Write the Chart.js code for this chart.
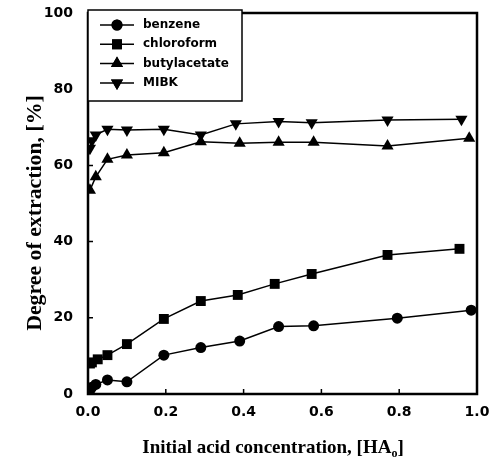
<!DOCTYPE html>
<html>
<head>
<meta charset="utf-8">
<script src="https://cdn.jsdelivr.net/npm/chart.js@4/dist/chart.umd.min.js"></script>
<style>
  html, body { margin: 0; padding: 0; background: #ffffff; }
  #wrap { position: relative; width: 497px; height: 467px; }
</style>
</head>
<body>
<div id="wrap"><canvas id="c" width="497" height="467"></canvas></div>
<script>
// ---- data ----
const seriesNames = ["benzene", "chloroform", "butylacetate", "MIBK"];

const benzeneX = [0.005, 0.01, 0.02, 0.05, 0.10, 0.195, 0.29, 0.39, 0.49, 0.58, 0.795, 0.985];
const benzeneY = [1.0, 1.8, 2.5, 3.7, 3.2, 10.2, 12.2, 13.9, 17.7, 17.9, 19.9, 22.0];

const chloroformX = [0.005, 0.01, 0.025, 0.05, 0.10, 0.195, 0.29, 0.385, 0.48, 0.575, 0.77, 0.955];
const chloroformY = [8.0, 8.3, 9.1, 10.2, 13.1, 19.7, 24.4, 26.0, 28.9, 31.5, 36.5, 38.1];

const butylX = [0.005, 0.02, 0.05, 0.10, 0.195, 0.29, 0.39, 0.49, 0.58, 0.77, 0.98];
const butylY = [53.5, 57.0, 61.6, 62.7, 63.3, 66.2, 65.8, 66.1, 66.1, 65.1, 67.1];

const mibkX = [0.005, 0.01, 0.02, 0.05, 0.10, 0.195, 0.29, 0.38, 0.49, 0.575, 0.77, 0.96];
const mibkY = [64.5, 66.5, 68.0, 69.5, 69.3, 69.5, 68.0, 70.9, 71.5, 71.2, 71.9, 72.1];

const xTicks = [0.0, 0.2, 0.4, 0.6, 0.8, 1.0];
const yTicks = [0, 20, 40, 60, 80, 100];

const xTitle = "Initial acid concentration, [HA";
const xTitleSub = "o";
const xTitleEnd = "]";
const yTitle = "Degree of extraction, [%]";

// ---- build ----
function pts(xs, ys) { return xs.map((x, i) => ({ x: x, y: ys[i] })); }

const markerStyles = [
  { pointStyle: "circle", radius: 5.5, rotation: 0 },
  { pointStyle: "rect", radius: 7, rotation: 0 },
  { pointStyle: "triangle", radius: 7, rotation: 0 },
  { pointStyle: "triangle", radius: 7, rotation: 180 }
];
const allData = [pts(benzeneX, benzeneY), pts(chloroformX, chloroformY), pts(butylX, butylY), pts(mibkX, mibkY)];

const datasets = seriesNames.map((name, i) => ({
  label: name,
  data: allData[i],
  showLine: true,
  borderColor: "#000",
  backgroundColor: "#000",
  borderWidth: 1.5,
  pointStyle: markerStyles[i].pointStyle,
  pointRadius: markerStyles[i].radius,
  pointRotation: markerStyles[i].rotation,
  pointBorderWidth: 0,
  pointBackgroundColor: "#000",
  pointBorderColor: "#000",
  tension: 0
}));

const framePlugin = {
  id: "frame",
  afterDatasetsDraw(chart) {
    const { ctx, chartArea: a, scales } = chart;
    ctx.save();
    ctx.strokeStyle = "#000";
    ctx.lineWidth = 2.5;
    ctx.strokeRect(a.left, a.top, a.right - a.left, a.bottom - a.top);
    ctx.lineWidth = 1.5;
    ctx.beginPath();
    xTicks.slice(1, -1).forEach(v => {
      const px = scales.x.getPixelForValue(v);
      ctx.moveTo(px, a.bottom); ctx.lineTo(px, a.bottom - 5);
    });
    yTicks.slice(1, -1).forEach(v => {
      const py = scales.y.getPixelForValue(v);
      ctx.moveTo(a.left, py); ctx.lineTo(a.left + 5, py);
    });
    ctx.stroke();

    // legend box
    const bx = 88, by = 10, bw = 154, bh = 91;
    ctx.fillStyle = "#fff";
    ctx.fillRect(bx, by, bw, bh);
    ctx.lineWidth = 1.5;
    ctx.strokeRect(bx, by, bw, bh);
    chart.data.datasets.forEach((ds, i) => {
      const y = 25 + i * 19.3;
      ctx.strokeStyle = "#000";
      ctx.lineWidth = 1.5;
      ctx.beginPath(); ctx.moveTo(100, y); ctx.lineTo(134, y); ctx.stroke();
      ctx.fillStyle = "#000";
      if (Chart.helpers && Chart.helpers.drawPoint) {
        Chart.helpers.drawPoint(ctx, { pointStyle: ds.pointStyle, radius: ds.pointRadius, rotation: ds.pointRotation, borderWidth: 0 }, 117, y);
        ctx.fill();
      }
      ctx.fillStyle = "#000";
      ctx.font = "bold 12px 'DejaVu Sans'";
      ctx.textAlign = "left";
      ctx.textBaseline = "middle";
      ctx.fillText(ds.label, 143, y);
    });

    // x title with subscript
    ctx.fillStyle = "#000";
    ctx.textBaseline = "alphabetic";
    ctx.textAlign = "left";
    const mainFont = "bold 19px 'Liberation Serif'";
    const subFont = "bold 12px 'Liberation Serif'";
    ctx.font = mainFont;
    const w1 = ctx.measureText(xTitle).width;
    const w3 = ctx.measureText(xTitleEnd).width;
    ctx.font = subFont;
    const w2 = ctx.measureText(xTitleSub).width;
    const total = w1 + w2 + w3;
    let sx = 273 - total / 2;
    const base = 453;
    ctx.font = mainFont; ctx.fillText(xTitle, sx, base); sx += w1;
    ctx.font = subFont; ctx.fillText(xTitleSub, sx, base + 4); sx += w2;
    ctx.font = mainFont; ctx.fillText(xTitleEnd, sx, base);

    // y title
    ctx.save();
    ctx.translate(36, 213);
    ctx.rotate(-Math.PI / 2);
    ctx.scale(1.09, 1);
    ctx.font = "bold 20px 'Liberation Serif'";
    ctx.textAlign = "center";
    ctx.textBaseline = "middle";
    ctx.fillText(yTitle, 0, 0);
    ctx.restore();
    ctx.restore();
  }
};

new Chart(document.getElementById("c"), {
  type: "scatter",
  data: { datasets: datasets },
  options: {
    responsive: false,
    devicePixelRatio: 1,
    animation: false,
    layout: { padding: { top: 13, right: 20, left: 0, bottom: 0 } },
    plugins: { legend: { display: false }, tooltip: { enabled: false } },
    scales: {
      x: {
        type: "linear", min: 0, max: 1,
        afterFit(s) { s.height = 73; s.paddingLeft = 0; s.paddingRight = 0; },
        afterBuildTicks(s) { s.ticks = xTicks.map(v => ({ value: v })); },
        grid: { display: false, drawTicks: false },
        border: { display: false },
        ticks: {
          padding: 10,
          color: "#000",
          font: { family: "DejaVu Sans", size: 14, weight: "bold" },
          callback: v => Number(v).toFixed(1)
        }
      },
      y: {
        type: "linear", min: 0, max: 100,
        afterFit(s) { s.width = 88; s.paddingTop = 0; s.paddingBottom = 0; },
        afterBuildTicks(s) { s.ticks = yTicks.map(v => ({ value: v })); },
        grid: { display: false, drawTicks: false },
        border: { display: false },
        ticks: {
          padding: 15,
          color: "#000",
          font: { family: "DejaVu Sans", size: 14, weight: "bold" },
          callback: v => String(v)
        }
      }
    }
  },
  plugins: [framePlugin]
});
</script>
</body>
</html>
